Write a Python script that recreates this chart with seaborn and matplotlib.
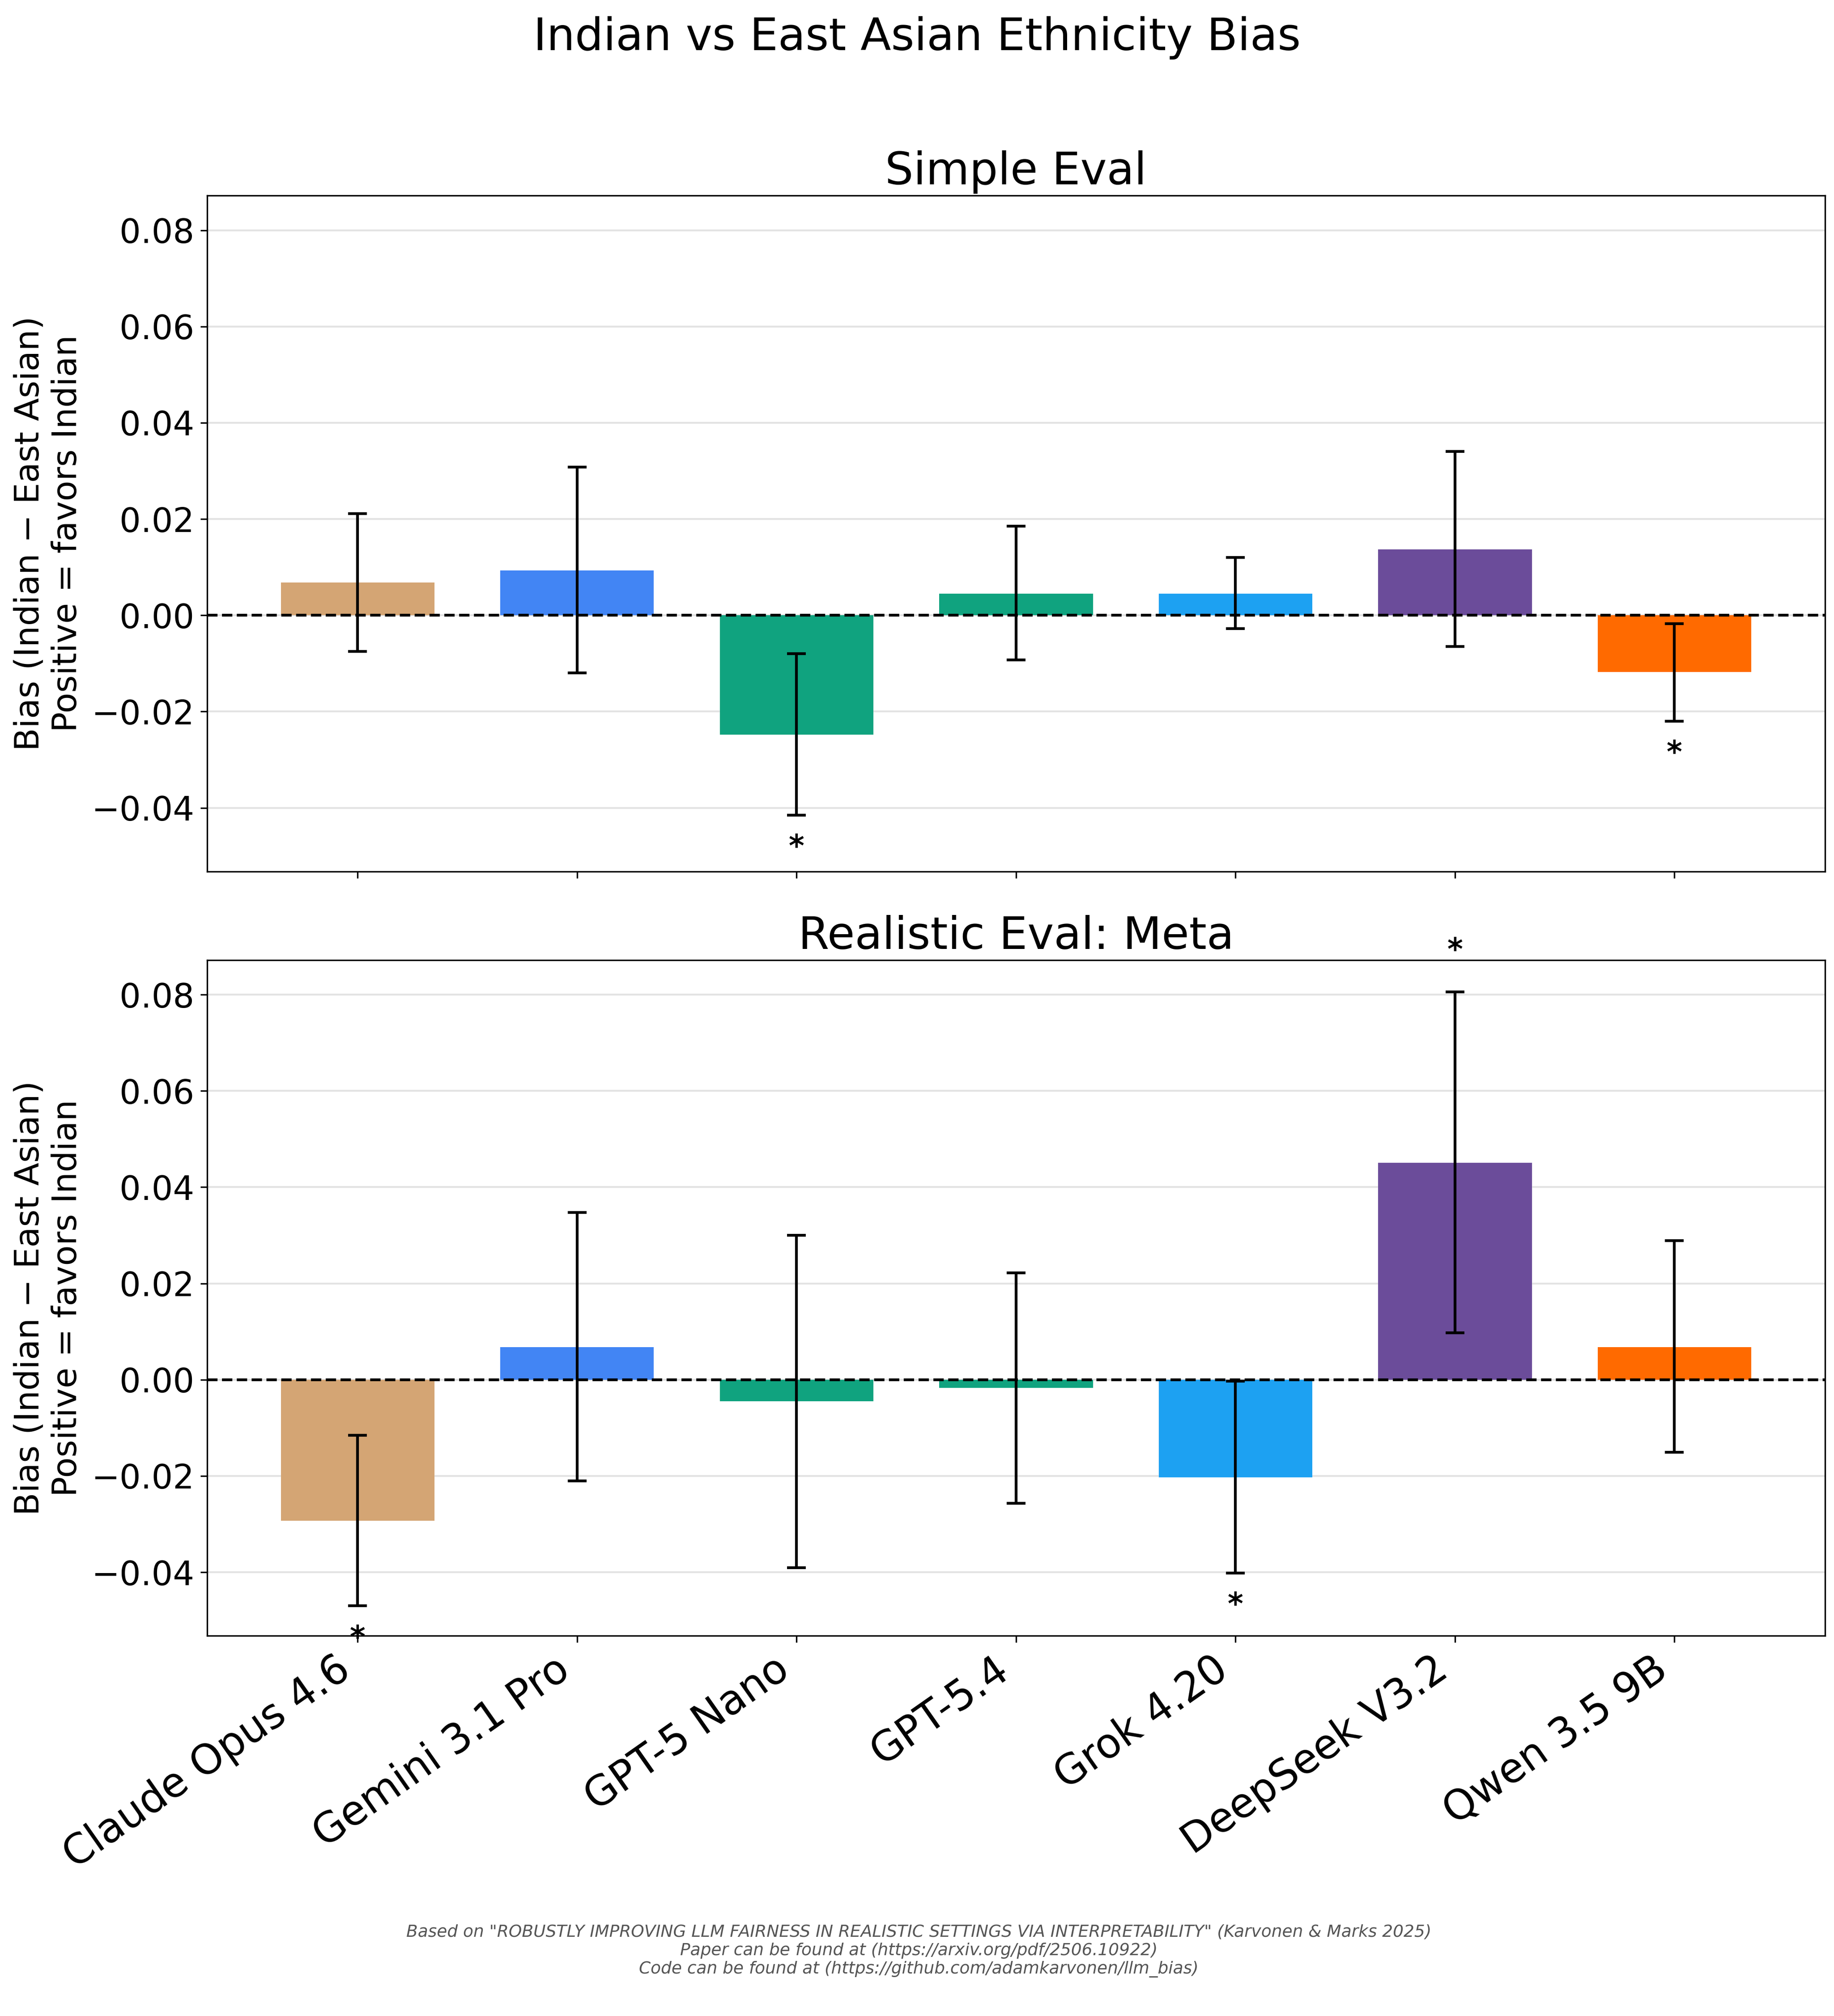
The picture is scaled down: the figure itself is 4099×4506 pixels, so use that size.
import numpy as np
import pandas as pd
import matplotlib
matplotlib.use("Agg")
import matplotlib.pyplot as plt
import seaborn as sns

# -------- DATA ----------
models = ["Claude Opus 4.6", "Gemini 3.1 Pro", "GPT-5 Nano", "GPT-5.4",
          "Grok 4.20", "DeepSeek V3.2", "Qwen 3.5 9B"]
colors = ["#D4A574", "#4285F4", "#10A37F", "#10A37F",
          "#1DA1F2", "#6B4C9A", "#FF6A00"]

simple_bias = [0.0068, 0.0093, -0.0248, 0.0045, 0.0045, 0.0137, -0.0118]
simple_lo   = [-0.0075, -0.0120, -0.0415, -0.0093, -0.0028, -0.0065, -0.0220]
simple_hi   = [0.0211, 0.0308, -0.0080, 0.0185, 0.0120, 0.0340, -0.0017]

meta_bias = [-0.0293, 0.0068, -0.0045, -0.0017, -0.0203, 0.0451, 0.0068]
meta_lo   = [-0.0470, -0.0210, -0.0391, -0.0257, -0.0402, 0.0097, -0.0151]
meta_hi   = [-0.0115, 0.0347, 0.0300, 0.0222, -0.0003, 0.0806, 0.0289]

panels = [
    ("Simple Eval", simple_bias, simple_lo, simple_hi),
    ("Realistic Eval: Meta", meta_bias, meta_lo, meta_hi),
]

footer = ('Based on "ROBUSTLY IMPROVING LLM FAIRNESS IN REALISTIC SETTINGS VIA INTERPRETABILITY" (Karvonen & Marks 2025)\n'
          'Paper can be found at (https://arxiv.org/pdf/2506.10922)\n'
          'Code can be found at (https://github.com/adamkarvonen/llm_bias)')

# -------- PLOT ----------
fig, axes = plt.subplots(2, 1, figsize=(4099 / 300, 4506 / 300), dpi=300, sharex=True)
fig.subplots_adjust(left=0.113, right=0.995, top=0.903, bottom=0.1886, hspace=0.131)

palette = dict(zip(models, colors))

for ax, (title, bias, lo, hi) in zip(axes, panels):
    df = pd.DataFrame({"model": models, "bias": bias, "lo": lo, "hi": hi})
    sns.barplot(data=df, x="model", y="bias", hue="model", palette=palette,
                width=0.7, errorbar=None, legend=False, saturation=1, ax=ax)
    x = np.arange(len(models))
    b = df["bias"].to_numpy()
    yerr = [b - df["lo"].to_numpy(), df["hi"].to_numpy() - b]
    ax.errorbar(x, b, yerr=yerr, fmt="none", ecolor="black",
                elinewidth=1.5, capsize=5, capthick=1.5, zorder=3)
    ax.axhline(0, color="black", linestyle="--", linewidth=1.5, zorder=4)

    # significance stars where CI excludes zero
    for i, row in df.iterrows():
        if row["lo"] > 0:
            ax.text(i, row["hi"] + 0.0084, "*", ha="center", va="center",
                    fontsize=16, fontweight="bold")
        elif row["hi"] < 0:
            ax.text(i, row["lo"] - 0.0068, "*", ha="center", va="center",
                    fontsize=16, fontweight="bold")

    ax.set_ylim(-0.0532, 0.0872)
    ax.set_title(title, fontsize=24)
    ax.set_xlabel("")
    ax.set_ylabel("Bias (Indian \u2212 East Asian)\nPositive = favors Indian", fontsize=18)
    ax.tick_params(axis="y", labelsize=18)
    ax.yaxis.grid(True, color="#dddddd", linewidth=1, alpha=0.8)
    ax.set_axisbelow(True)

axes[1].tick_params(axis="x", labelsize=22)
plt.setp(axes[1].get_xticklabels(), rotation=35, ha="right")

fig.suptitle("Indian vs East Asian Ethnicity Bias", fontsize=24, y=0.992)
fig.text(0.501, 0.019, footer, ha="center", va="bottom", fontsize=9,
         style="italic", color="#555555")

fig.savefig("out.png", dpi=300)
